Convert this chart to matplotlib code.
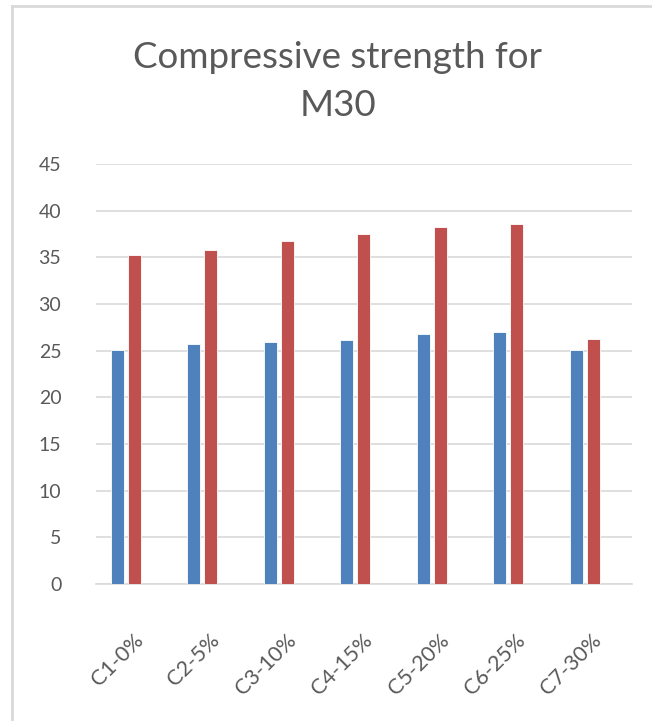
import matplotlib.pyplot as plt
import matplotlib.transforms as mtransforms
import numpy as np
from matplotlib.lines import Line2D

plt.rcParams['font.family'] = ['Lato', 'DejaVu Sans']

# compressive strength (N/mm2) for each mix
mixes = ["C1-0%", "C2-5%", "C3-10%", "C4-15%", "C5-20%", "C6-25%", "C7-30%"]
days_7 = [25.1, 25.7, 25.9, 26.1, 26.8, 27.0, 25.1]
days_28 = [35.3, 35.8, 36.8, 37.5, 38.3, 38.6, 26.2]

fig = plt.figure(figsize=(6.52, 7.21), dpi=100)
ax = fig.add_axes([96 / 652, 1 - 584 / 721, 536 / 652, 420 / 721])

x = np.arange(len(mixes))
w = 0.17
ax.bar(x - w / 2 - 0.025, days_7, w, color='#4f81bd', edgecolor='white', linewidth=0.6, zorder=3)
ax.bar(x + w / 2 + 0.025, days_28, w, color='#c0504d', edgecolor='white', linewidth=0.6, zorder=3)

ax.set_xlim(-0.39, 6.62)
ax.set_ylim(0, 45)
ax.set_yticks(range(0, 46, 5))
ax.yaxis.grid(True, color='#d9d9d9', linewidth=1.2, zorder=0)
ax.set_axisbelow(True)
for s in ['top', 'right', 'left']:
    ax.spines[s].set_visible(False)
ax.spines['bottom'].set_color('#d9d9d9')
ax.spines['bottom'].set_linewidth(1.2)

ax.set_xticks(x)
ax.set_xticklabels(mixes, rotation=45, ha='right', rotation_mode='anchor')
ax.tick_params(axis='both', length=0, colors='#595959')
ax.tick_params(axis='x', labelsize=15.5, pad=33)
ax.tick_params(axis='y', labelsize=14, pad=25)
shift = mtransforms.ScaledTranslation(0.07, 0, fig.dpi_scale_trans)
for lbl in ax.get_xticklabels():
    lbl.set_transform(lbl.get_transform() + shift)

fig.text(0.518, 1 - 57 / 721, "Compressive strength for", ha='center', va='center',
         fontsize=26.5, color='#595959')
fig.text(0.518, 1 - 105 / 721, "M30", ha='center', va='center',
         fontsize=26.5, color='#595959')

# thin frame around the chart area
fig.add_artist(Line2D([12 / 652, 12 / 652], [0, 1 - 6 / 721], color='#d9d9d9', linewidth=2))
fig.add_artist(Line2D([12 / 652, 1], [1 - 6 / 721, 1 - 6 / 721], color='#d9d9d9', linewidth=2))

fig.savefig('out.png', dpi=100)
